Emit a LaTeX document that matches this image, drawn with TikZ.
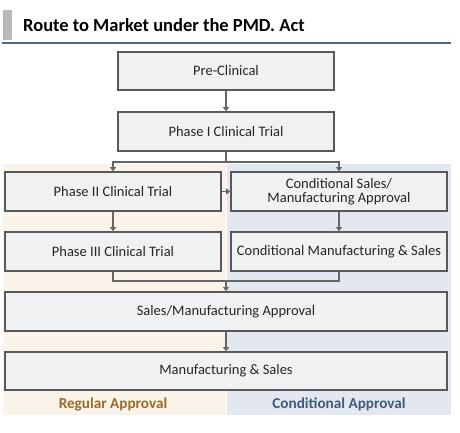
\documentclass[tikz,border=0pt]{standalone}
\usepackage{fontspec}
\setmainfont{Carlito}
\usetikzlibrary{arrows.meta}
\definecolor{boxfill}{HTML}{F0F1F3}
\definecolor{boxline}{HTML}{595959}
\definecolor{conn}{HTML}{666666}
\definecolor{beige}{HTML}{FAF3EA}
\definecolor{bluebg}{HTML}{E3E8F0}
\definecolor{rule}{HTML}{4D6B86}
\definecolor{regtxt}{HTML}{9A6A2A}
\definecolor{condtxt}{HTML}{3F5A7A}
\definecolor{barc}{HTML}{B8B8B8}
\tikzset{
  box/.style={draw=boxline, fill=boxfill, line width=1.6pt, minimum width=216pt, minimum height=39pt, inner sep=1pt, align=center, font=\fontsize{14.5}{16}\selectfont, text=black!85},
  wide/.style={box, minimum width=442pt},
  arr/.style={draw=conn, line width=1.4pt, -{Triangle[width=6pt,length=4pt]}},
  ln/.style={draw=conn, line width=1.4pt},
  lab/.style={font=\fontsize{15.2}{17}\selectfont\bfseries},
}
\begin{document}
\begin{tikzpicture}[x=1pt,y=-1pt]
\useasboundingbox (0,0) rectangle (460,432);
% backgrounds
\fill[beige] (3,164) rectangle (226.3,415);
\fill[bluebg] (227.3,164) rectangle (451,415);
% title
\fill[barc] (3,10) rectangle (12,40);
\node[anchor=west, inner sep=0pt, font=\fontsize{18.5}{20}\selectfont\bfseries] (title) at (23,25) {Route to Market under the PMD. Act};
\fill[rule] (2,41.5) rectangle (451,44);
% boxes
\node[box, minimum height=38pt] (pre) at (226,71) {Pre-Clinical};
\node[box] (ph1) at (226,131.5) {Phase I Clinical Trial};
\node[box] (ph2) at (113,191.5) {Phase II Clinical Trial};
\node[box] (cs) at (339,191.5) {Conditional Sales/\\[-2pt]Manufacturing Approval};
\node[box] (ph3) at (113,251.5) {Phase III Clinical Trial};
\node[box] (cm) at (339,251.5) {Conditional Manufacturing \& Sales};
\node[wide] (sales) at (226,311.5) {Sales/Manufacturing Approval};
\node[wide, minimum height=38pt] (manuf) at (226,371) {Manufacturing \& Sales};
% labels
\node[lab, text=regtxt] (reg) at (113,404) {Regular Approval};
\node[lab, text=condtxt] (cond) at (339,404) {Conditional Approval};
% connectors
\draw[arr] (pre) -- (ph1);
\coordinate (j1) at (226,162);
\draw[ln] (ph1.south) -- (j1);
\draw[arr] (j1) -| (ph2.north);
\draw[arr] (j1) -| (cs.north);
\draw[arr] (ph2) -- (cs);
\draw[arr] (ph2) -- (ph3);
\draw[arr] (cs) -- (cm);
\coordinate (j2) at (226,281);
\draw[ln] (ph3.south) |- (j2) -| (cm.south);
\draw[arr] (j2) -- (sales.north);
\draw[arr] (sales) -- (manuf);
\end{tikzpicture}
\end{document}
